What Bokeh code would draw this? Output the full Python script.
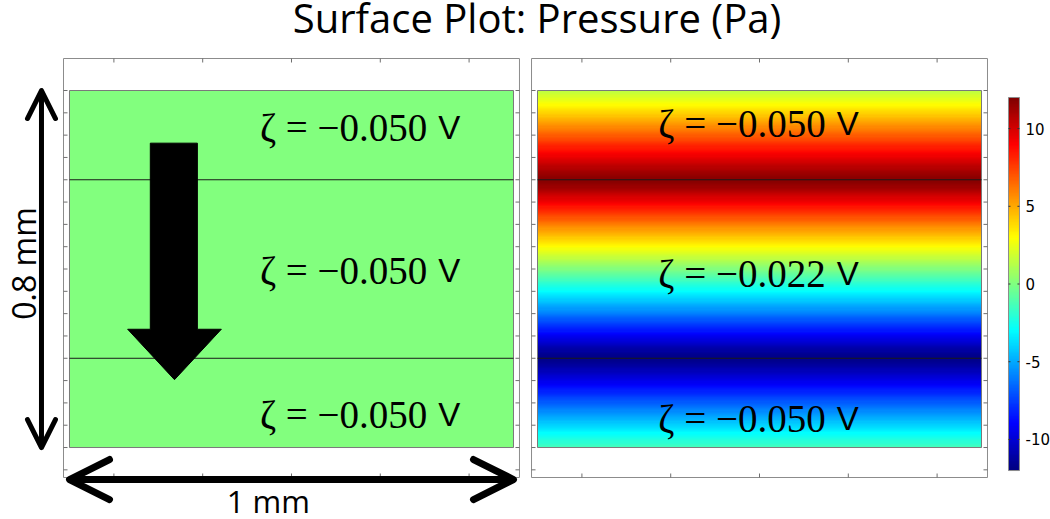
import numpy as np
from bokeh.plotting import figure
from bokeh.models import Range1d, LinearColorMapper, Arrow, OpenHead
from bokeh.embed import file_html
from bokeh.resources import INLINE
from bokeh.core.properties import value

# ---------------- data ----------------
title_text = "Surface Plot: Pressure (Pa)"
channel_width_mm = 1.0
channel_height_mm = 0.8
layer_edges = [0.0, 0.2, 0.6, 0.8]
width_label = "1 mm"
height_label = "0.8 mm"

# zeta potentials of the three layers (bottom, middle, top), in V
zeta_left = [-0.050, -0.050, -0.050]
zeta_right = [-0.050, -0.022, -0.050]

# pressure (Pa) across the channel height, read every 0.005 mm from y=0 (bottom) to y=0.8 (top)
pressure_left = [0.0] * 161
pressure_right = [
    # bottom layer 0.000 .. 0.200
    -1.5, -1.75, -2.0, -2.25, -2.5, -2.75, -3.0, -3.3, -3.6, -3.85,
    -4.1, -4.4, -4.7, -4.95, -5.2, -5.5, -5.8, -6.05, -6.3, -6.6,
    -6.9, -7.15, -7.4, -7.7, -8.0, -8.25, -8.5, -8.8, -9.1, -9.35,
    -9.6, -9.85, -10.1, -10.35, -10.6, -10.85, -11.1, -11.3, -11.5, -11.65,
    -11.8,
    # middle layer 0.205 .. 0.600
    -11.7, -11.5, -11.25, -11.0, -10.7, -10.4, -10.1, -9.8, -9.5, -9.2,
    -8.85, -8.5, -8.2, -7.9, -7.6, -7.3, -7.0, -6.7, -6.35, -6.0,
    -5.7, -5.4, -5.1, -4.8, -4.5, -4.2, -3.9, -3.6, -3.3, -3.0,
    -2.7, -2.4, -2.1, -1.8, -1.5, -1.2, -0.9, -0.6, -0.3, 0.0,
    0.3, 0.6, 0.9, 1.2, 1.5, 1.8, 2.1, 2.4, 2.7, 3.0,
    3.3, 3.6, 3.9, 4.2, 4.5, 4.8, 5.1, 5.4, 5.7, 6.0,
    6.35, 6.7, 7.0, 7.3, 7.6, 7.9, 8.2, 8.5, 8.85, 9.2,
    9.5, 9.8, 10.1, 10.4, 10.7, 11.0, 11.25, 11.5, 11.7, 11.8,
    # top layer 0.605 .. 0.800
    11.65, 11.5, 11.3, 11.1, 10.85, 10.6, 10.35, 10.1, 9.85, 9.6,
    9.35, 9.1, 8.8, 8.5, 8.25, 8.0, 7.7, 7.4, 7.15, 6.9,
    6.6, 6.3, 6.05, 5.8, 5.5, 5.2, 4.95, 4.7, 4.4, 4.1,
    3.85, 3.6, 3.3, 3.0, 2.75, 2.5, 2.25, 2.0, 1.75, 1.5,
]
pressure_low, pressure_high = -12.0, 12.0
cbar_ticks = [-10, -5, 0, 5, 10]
x_ticks = [0.1, 0.3, 0.5, 0.7, 0.9]
y_ticks = [-0.05, 0.0, 0.05, 0.10, 0.15, 0.20, 0.25, 0.30, 0.35, 0.40,
           0.45, 0.50, 0.55, 0.60, 0.65, 0.70, 0.75, 0.80]

# ---------------- layout / style (mm unless noted) ----------------
W, H = 1050, 519
X_RANGE = (-0.1554, 2.2095)          # whole canvas, 444 px per mm
Y_RANGE = (-0.1613, 1.0017)          # whole canvas, 446 px per mm
CB_RANGE = (-15.15, 18.24)           # colour-bar scale mapped on the canvas height
PANEL_BOX = (-0.0135, 1.0135, -0.0672, 0.8717)   # axes box around each panel
RIGHT_OFFSET = 1.0541                # second panel shift
CB_X = (2.1149, 2.1396)              # colour-bar strip
CB_LABEL_X = 2.1532
ZETA_ANCHOR = [0.806, 0.649]         # end of the serif part of the zeta labels
label_y_left = [0.074, 0.397, 0.716]   # vertical centres of the zeta labels
label_y_right = [0.066, 0.391, 0.725]
FRAME_COLOR = "#8c8c8c"
TICK_COLOR = "#6e6e6e"
SERIF = "Liberation Serif"
SANS = "Open Sans"


def jet(t):
    r = min(max(1.5 - abs(4 * t - 3), 0.0), 1.0)
    g = min(max(1.5 - abs(4 * t - 2), 0.0), 1.0)
    b = min(max(1.5 - abs(4 * t - 1), 0.0), 1.0)
    return "#%02x%02x%02x" % (int(round(r * 255)), int(round(g * 255)), int(round(b * 255)))


palette = [jet(i / 255.0) for i in range(256)]
mapper = LinearColorMapper(palette=palette, low=pressure_low, high=pressure_high)

p = figure(width=W, height=H, x_range=Range1d(*X_RANGE), y_range=Range1d(*Y_RANGE),
           x_axis_type=None, y_axis_type=None, toolbar_location=None, output_backend="svg",
           min_border=0, title=None)
p.min_border_left = p.min_border_right = p.min_border_top = p.min_border_bottom = 0
p.outline_line_color = None
p.background_fill_color = "white"
p.border_fill_color = "white"
p.extra_y_ranges = {"cbar": Range1d(*CB_RANGE)}


def draw_panel(x0, pressure, zetas, anchor, label_y):
    bx0, bx1, by0, by1 = PANEL_BOX
    # axes box and inward ticks
    p.quad(left=[x0 + bx0], right=[x0 + bx1], bottom=[by0], top=[by1],
           fill_color=None, line_color=FRAME_COLOR, line_width=1)
    ny, nx = len(y_ticks), len(x_ticks)
    p.ray(x=[x0 + bx0] * ny, y=y_ticks, length=4, length_units="screen", angle=0,
          line_color=TICK_COLOR, line_width=1)
    p.ray(x=[x0 + bx1] * ny, y=y_ticks, length=4, length_units="screen", angle=np.pi,
          line_color=TICK_COLOR, line_width=1)
    p.ray(x=[x0 + t for t in x_ticks], y=[by1] * nx, length=4, length_units="screen",
          angle=-np.pi / 2, line_color=TICK_COLOR, line_width=1)
    p.ray(x=[x0 + t for t in x_ticks], y=[by0] * nx, length=4, length_units="screen",
          angle=np.pi / 2, line_color=TICK_COLOR, line_width=1)
    # pressure field
    img = np.array(pressure, dtype=float).reshape(-1, 1)
    p.image(image=[img], x=x0, y=layer_edges[0], dw=channel_width_mm, dh=channel_height_mm,
            color_mapper=mapper)
    p.quad(left=[x0], right=[x0 + channel_width_mm], bottom=[layer_edges[0]], top=[layer_edges[-1]],
           fill_color=None, line_color="#7a7a7a", line_width=1)
    inner = layer_edges[1:-1]
    p.segment(x0=[x0] * len(inner), x1=[x0 + channel_width_mm] * len(inner), y0=inner, y1=inner,
              line_color="#1a1a1a", line_width=1)
    # zeta labels
    serif_txt = ["ζ = −%.3f" % abs(z) for z in zetas]
    p.text(x=[x0 + anchor] * 3, y=label_y, text=serif_txt, text_font=value(SERIF),
           text_font_size="39px", text_align="right", text_baseline="middle", text_color="black")
    p.text(x=[x0 + anchor] * 3, y=label_y, text=["V"] * 3, x_offset=11,
           text_font=value("Liberation Sans"), text_font_size="33px", text_align="left",
           text_baseline="middle", text_color="black")


draw_panel(0.0, pressure_left, zeta_left, ZETA_ANCHOR[0], label_y_left)
draw_panel(RIGHT_OFFSET, pressure_right, zeta_right, ZETA_ANCHOR[1], label_y_right)

# flow arrow (big black arrow) in the left panel
flow_arrow_x = [0.182, 0.288, 0.288, 0.342, 0.2365, 0.131, 0.182]
flow_arrow_y = [0.682, 0.682, 0.265, 0.265, 0.152, 0.265, 0.265]
p.patch(flow_arrow_x, flow_arrow_y, fill_color="black", line_color="black")

# dimension arrows and labels
vx = -0.0631
p.add_layout(Arrow(start=OpenHead(size=28, line_width=5, line_cap="round", line_join="round"),
                   end=OpenHead(size=28, line_width=5, line_cap="round", line_join="round"),
                   x_start=vx, y_start=layer_edges[0], x_end=vx, y_end=channel_height_mm,
                   line_width=5, line_color="black"))
hy = -0.0717
p.add_layout(Arrow(start=OpenHead(size=40, line_width=7, line_cap="round", line_join="round"),
                   end=OpenHead(size=40, line_width=7, line_cap="round", line_join="round"),
                   x_start=0.0, y_start=hy, x_end=channel_width_mm, y_end=hy,
                   line_width=7, line_color="black"))
p.text(x=[-0.1036], y=[0.4123], text=[height_label], angle=np.pi / 2, text_align="center",
       text_baseline="middle", text_font=value(SANS), text_font_size="32px", text_color="black")
p.text(x=[0.448], y=[-0.1188], text=[width_label], text_align="center",
       text_baseline="middle", text_font=value(SANS), text_font_size="31px", text_color="black")

# colour bar
p.image(image=[np.linspace(pressure_low, pressure_high, 256).reshape(-1, 1)], x=CB_X[0], y=pressure_low,
        dw=CB_X[1] - CB_X[0], dh=pressure_high - pressure_low, color_mapper=mapper, y_range_name="cbar")
p.quad(left=[CB_X[0]], right=[CB_X[1]], bottom=[pressure_low], top=[pressure_high],
       fill_color=None, line_color=FRAME_COLOR, line_width=1, y_range_name="cbar")
nt = len(cbar_ticks)
p.ray(x=[CB_X[0]] * nt, y=cbar_ticks, length=2, length_units="screen", angle=0,
      line_color="#333333", line_width=1, y_range_name="cbar")
p.ray(x=[CB_X[1]] * nt, y=cbar_ticks, length=2, length_units="screen", angle=np.pi,
      line_color="#333333", line_width=1, y_range_name="cbar")
p.text(x=[CB_LABEL_X] * nt, y=cbar_ticks, text=[str(v) for v in cbar_ticks], text_align="left",
       text_baseline="middle", text_font=value("DejaVu Sans"), text_font_size="15px",
       text_color="black", y_range_name="cbar")

# title
p.text(x=[1.0529], y=[0.9647], text=[title_text], text_font=value(SANS), text_font_size="40px",
       text_align="center", text_baseline="middle", text_color="black")

open("out.html", "w").write(file_html(p, INLINE, title="Surface Plot: Pressure (Pa)"))
